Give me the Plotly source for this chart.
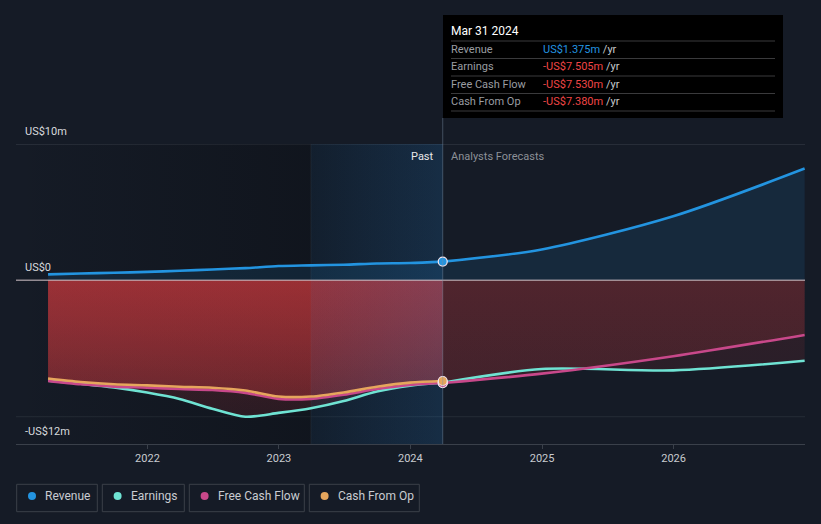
import plotly.graph_objects as go

# ---------------- data (US$ millions) ----------------
past_dates = ["2021-03-31", "2021-06-30", "2021-09-30", "2021-12-31", "2022-03-31",
              "2022-06-30", "2022-09-30", "2022-12-31", "2023-03-31", "2023-06-30",
              "2023-09-30", "2023-12-31", "2024-03-31"]
revenue_past = [0.44, 0.50, 0.56, 0.62, 0.70, 0.80, 0.90, 1.05, 1.10, 1.15, 1.24, 1.27, 1.375]
earnings_past = [-7.35, -7.58, -7.85, -8.23, -8.70, -9.41, -10.0, -9.72, -9.38, -8.85, -8.15, -7.72, -7.505]
fcf_past = [-7.37, -7.62, -7.79, -7.87, -7.97, -8.04, -8.25, -8.69, -8.69, -8.39, -7.97, -7.67, -7.53]
cfo_past = [-7.20, -7.45, -7.62, -7.70, -7.80, -7.87, -8.08, -8.52, -8.52, -8.22, -7.80, -7.50, -7.38]

fc_dates = ["2024-03-31", "2024-12-31", "2025-12-31", "2026-12-31"]
revenue_fc = [1.375, 2.27, 4.70, 8.20]
earnings_fc = [-7.505, -6.50, -6.60, -5.90]
fcf_fc = [-7.53, -6.84, -5.56, -4.00]

year_ticks = ["2022-01-01", "2023-01-01", "2024-01-01", "2025-01-01", "2026-01-01"]
year_labels = ["2022", "2023", "2024", "2025", "2026"]

x_range = ["2021-01-01", "2027-01-01"]
y_range = [-12, 10]

series_names = ["Revenue", "Earnings", "Free Cash Flow", "Cash From Op"]
series_colors = ["#2394e0", "#6fe3d3", "#c8488a", "#e6a65d"]
tooltip_date = "Mar 31 2024"
tooltip_values = ["US$1.375m", "-US$7.505m", "-US$7.530m", "-US$7.380m"]
tooltip_value_colors = ["#2394e0", "#ef4646", "#ef4646", "#ef4646"]

BG = "#151b26"
FONT = "Roboto"
REV, EARN, FCF, CFO = series_colors

# plot area in pixels
L, R, T, B = 16, 805, 144, 444
W, H = 821, 524


def px(x):
    return (x - L) / (R - L)


def py(y):
    return (B - y) / (B - T)


def red(a):
    return f"rgba(200,56,60,{a})"


fig = go.Figure()


# ---------- background bands (horizontal gradient fills) ----------
def band(t0, t1, c0, c1):
    return go.Scatter(
        x=[t0, t1, t1, t0, t0], y=[y_range[0], y_range[0], y_range[1], y_range[1], y_range[0]],
        mode="none", fill="toself",
        fillgradient=dict(type="horizontal", colorscale=[[0, c0], [1, c1]]),
        hoverinfo="skip", showlegend=False)


hl_start, hl_end = past_dates[8], past_dates[-1]
fig.add_trace(band(x_range[0], hl_start, "rgba(8,10,14,0)", "rgba(8,10,14,0.35)"))
fig.add_trace(band(hl_start, hl_end, "rgba(8,10,14,0.25)", "rgba(8,10,14,0)"))


# ---------- fills ----------
def grad_fill(x, y, top_a, bot_a, start=-10):
    return go.Scatter(
        x=x, y=y, mode="none", fill="tozeroy",
        fillgradient=dict(type="vertical", start=start, stop=0,
                          colorscale=[[0, red(bot_a)], [1, red(top_a)]]),
        hoverinfo="skip", showlegend=False, line=dict(shape="spline", smoothing=0.8))


fig.add_trace(grad_fill(past_dates, earnings_past, 0.30, 0.14))
fig.add_trace(grad_fill(past_dates, fcf_past, 0.40, 0.22, start=-8))
fig.add_trace(grad_fill(past_dates, cfo_past, 0.40, 0.22, start=-8))
fig.add_trace(grad_fill(fc_dates, earnings_fc, 0.14, 0.11))
fig.add_trace(grad_fill(fc_dates, fcf_fc, 0.22, 0.15, start=-8))

for xs, ys in [(past_dates, revenue_past), (fc_dates, revenue_fc)]:
    fig.add_trace(go.Scatter(x=xs, y=ys, mode="none", fill="tozeroy",
                             fillcolor="rgba(35,148,224,0.12)", hoverinfo="skip",
                             showlegend=False, line=dict(shape="spline", smoothing=0.8)))

# past-year highlight overlay (tints the fills, below the lines)
fig.add_trace(band(hl_start, hl_end, "rgba(30,140,230,0.07)", "rgba(30,140,230,0.16)"))


# ---------- lines ----------
def line(x, y, color):
    return go.Scatter(x=x, y=y, mode="lines", line=dict(color=color, width=2.6, shape="spline", smoothing=0.8),
                      hoverinfo="skip", showlegend=False)


fig.add_trace(line(past_dates, earnings_past, EARN))
fig.add_trace(line(fc_dates, earnings_fc, EARN))
fig.add_trace(line(past_dates, fcf_past, FCF))
fig.add_trace(line(fc_dates, fcf_fc, FCF))
fig.add_trace(line(past_dates, cfo_past, CFO))
fig.add_trace(line(past_dates, revenue_past, REV))
fig.add_trace(line(fc_dates, revenue_fc, REV))

# markers at the tooltip date
for ys, col in [(earnings_past, EARN), (fcf_past, FCF), (cfo_past, CFO), (revenue_past, REV)]:
    fig.add_trace(go.Scatter(x=[past_dates[-1]], y=[ys[-1]], mode="markers",
                             marker=dict(size=9, color=col, line=dict(color="#f4e6ee", width=1.2)),
                             hoverinfo="skip", showlegend=False))

shapes = []

# faint boundary line of past-year highlight
shapes.append(dict(type="line", xref="x", yref="paper", x0=hl_start, x1=hl_start, y0=0, y1=1,
                   line=dict(color="rgba(255,255,255,0.07)", width=1), layer="below"))

# grid lines
shapes.append(dict(type="line", xref="paper", yref="y", x0=0, x1=1, y0=10, y1=10,
                   line=dict(color="#3a404a", width=1), layer="below"))
shapes.append(dict(type="line", xref="paper", yref="y", x0=0, x1=1, y0=-10, y1=-10,
                   line=dict(color="#262c36", width=1), layer="below"))
# zero line
shapes.append(dict(type="line", xref="paper", yref="y", x0=0, x1=1, y0=0, y1=0,
                   line=dict(color="rgba(215,200,205,0.65)", width=1.5), layer="above"))

# tooltip vertical line
shapes.append(dict(type="line", xref="x", yref="paper", x0=past_dates[-1], x1=past_dates[-1],
                   y0=0, y1=py(118), line=dict(color="rgba(120,140,165,0.45)", width=1), layer="above"))

# tooltip box
shapes.append(dict(type="rect", xref="paper", yref="paper", x0=px(443), x1=px(783), y0=py(118), y1=py(15),
                   fillcolor="#000000", line=dict(width=0), layer="above"))
for yy in [41, 58.5, 76, 93.5, 111]:
    shapes.append(dict(type="line", xref="paper", yref="paper", x0=px(451), x1=px(775), y0=py(yy), y1=py(yy),
                       line=dict(color="#3a3a3c", width=1), layer="above"))

annotations = []
# tooltip texts
annotations.append(dict(xref="paper", yref="paper", x=px(451), y=py(31), xanchor="left", yanchor="middle",
                        xshift=-2, text=tooltip_date, showarrow=False,
                        font=dict(family=FONT, size=12, color="#ffffff")))
for i, (name, val, vc) in enumerate(zip(series_names, tooltip_values, tooltip_value_colors)):
    yy = [49.5, 66.5, 84, 101.5][i]
    annotations.append(dict(xref="paper", yref="paper", x=px(451), y=py(yy), xanchor="left", yanchor="middle",
                            xshift=-2, text=name, showarrow=False,
                            font=dict(family=FONT, size=11, color="#9a9da2")))
    annotations.append(dict(xref="paper", yref="paper", x=px(543), y=py(yy), xanchor="left", yanchor="middle",
                            xshift=-2, text=f'<span style="color:{vc}">{val}</span> /yr', showarrow=False,
                            font=dict(family=FONT, size=11, color="#c8cacd")))

# y labels
for val, lab in [(10, "US$10m"), (0, "US$0"), (-12, "-US$12m")]:
    annotations.append(dict(xref="paper", yref="y", x=px(24), y=val, xanchor="left", yanchor="bottom",
                            yshift=4, xshift=-1, text=lab, showarrow=False,
                            font=dict(family=FONT, size=11, color="#d8dadd")))

# Past / Analysts Forecasts
annotations.append(dict(xref="x", yref="paper", x=past_dates[-1], y=py(156), xanchor="right", yanchor="middle",
                        xshift=-7, text="Past", showarrow=False, font=dict(family=FONT, size=11, color="#e8e8e8")))
annotations.append(dict(xref="x", yref="paper", x=past_dates[-1], y=py(156), xanchor="left", yanchor="middle",
                        xshift=6, text="Analysts Forecasts", showarrow=False,
                        font=dict(family=FONT, size=11, color="#8c9097")))

# custom legend
legend_boxes = [(16.7, 97.3), (102.3, 184.3), (189.3, 304.3), (309.3, 419.3)]
for (x0, x1), name, col in zip(legend_boxes, series_names, series_colors):
    shapes.append(dict(type="rect", xref="paper", yref="paper", x0=px(x0), x1=px(x1), y0=py(511.7), y1=py(484.3),
                       line=dict(color="#3b4049", width=1), fillcolor="rgba(0,0,0,0)", layer="above"))
    cx = x0 + 15.3
    shapes.append(dict(type="circle", xref="paper", yref="paper", x0=px(cx - 4), x1=px(cx + 4),
                       y0=py(500), y1=py(492), fillcolor=col, line=dict(width=0), layer="above"))
    annotations.append(dict(xref="paper", yref="paper", x=px(cx + 12), y=py(496), xanchor="left", yanchor="middle",
                            xshift=-1, text=name, showarrow=False,
                            font=dict(family=FONT, size=12, color="#c9ccd1")))

fig.update_layout(
    width=W, height=H,
    margin=dict(l=L, r=W - R, t=T, b=H - B),
    paper_bgcolor=BG, plot_bgcolor=BG,
    showlegend=False,
    shapes=shapes, annotations=annotations,
    font=dict(family=FONT, color="#c8cbd0"),
    xaxis=dict(type="date", range=x_range, showgrid=False, zeroline=False,
               tickvals=year_ticks, ticktext=year_labels, ticks="outside", ticklen=4,
               tickcolor="#3a404a", tickfont=dict(family=FONT, size=11, color="#c8cbd0"),
               showline=True, linecolor="#3a404a", linewidth=1, fixedrange=True),
    yaxis=dict(range=y_range, showgrid=False, zeroline=False, showticklabels=False,
               ticks="", fixedrange=True),
)

fig.write_html("out.html")
